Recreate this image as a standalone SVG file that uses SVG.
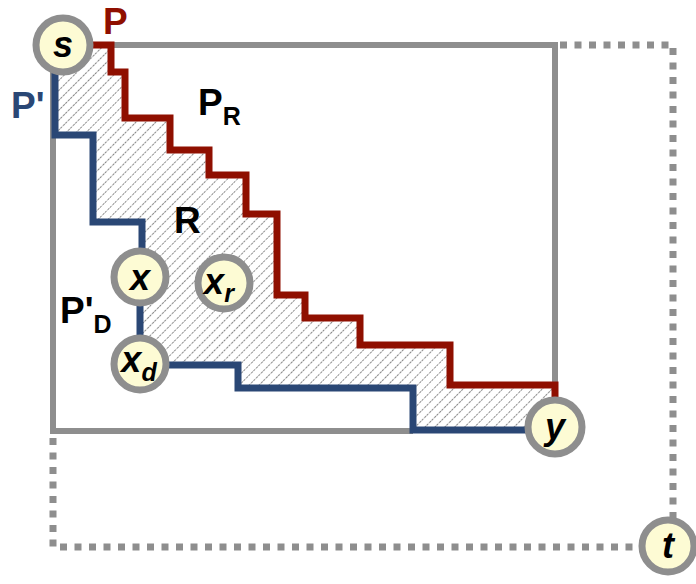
<svg xmlns="http://www.w3.org/2000/svg" width="696" height="584" viewBox="0 0 696 584">
  <defs>
    <pattern id="hatch" patternUnits="userSpaceOnUse" width="7" height="7" patternTransform="rotate(45)">
      <line x1="0" y1="0" x2="0" y2="7" stroke="#8a8a8a" stroke-width="2" stroke-dasharray="2.5 1.2"/>
    </pattern>
    <style>
      .frame { fill: none; stroke: #8e8e8e; stroke-width: 6; }
      .dots { fill: none; stroke: #8e8e8e; stroke-width: 7; stroke-dasharray: 7 7.5; }
      .red { fill: none; stroke: #8f0f00; stroke-width: 7; stroke-linejoin: miter; }
      .blue { fill: none; stroke: #2a4775; stroke-width: 7; stroke-linejoin: miter; }
      .node circle { fill: #fdfbd4; stroke: #8e8e8e; stroke-width: 7; }
      .node text { font-family: "Liberation Sans", Arial, sans-serif; font-weight: bold; font-style: italic; font-size: 36px; fill: #000; text-anchor: middle; }
      .lbl { font-family: "Liberation Sans", Arial, sans-serif; font-weight: bold; font-size: 37px; }
      .sub { font-size: 25px; }
    </style>
  </defs>

  <!-- shaded region R between the two paths -->
  <polygon fill="url(#hatch)" points="55,45 111,45 111,72 125,72 125,118 170,118 170,150 209,150 209,175 246,175 246,214 277,214 277,295 305,295 305,318 360,318 360,345 450,345 450,385 555,385 555,428 527,430 413,430 413,388 238,388 238,365 140,365 140,222 93,222 93,135 55,135"/>

  <g id="connectors">
    <!-- bounding box -->
    <polyline class="frame" points="95,45 555,45 555,386"/>
    <polyline class="frame" points="53,70 53,431 413,431"/>
    <!-- dotted extension to t -->
    <polyline class="dots" points="560,45 673,45 673,518"/>
    <polyline class="dots" points="53,438 53,547 640,547"/>
    <!-- path P -->
    <polyline class="red" points="92,45 111,45 111,72 125,72 125,118 170,118 170,150 209,150 209,175 246,175 246,214 277,214 277,295 305,295 305,318 360,318 360,345 450,345 450,385 555,385 555,405"/>
    <!-- path P' -->
    <polyline class="blue" points="55,70 55,135 93,135 93,222 142,222 142,255"/>
    <line class="blue" x1="140" y1="300" x2="140" y2="340"/>
    <polyline class="blue" points="165,365 238,365 238,388 413,388 413,430 530,430"/>
  </g>

  <g id="node-s" class="node"><circle cx="63" cy="45" r="27"/><text x="63" y="57">s</text></g>
  <g id="node-x" class="node"><circle cx="140" cy="277" r="26"/><text x="140" y="290">x</text></g>
  <g id="node-xr" class="node"><circle cx="224" cy="283" r="26"/><text x="219" y="294">x<tspan class="sub" dy="8">r</tspan></text></g>
  <g id="node-xd" class="node"><circle cx="140" cy="364" r="26"/><text x="139" y="372">x<tspan class="sub" dy="9">d</tspan></text></g>
  <g id="node-y" class="node"><circle cx="555" cy="427" r="27"/><text x="555" y="439">y</text></g>
  <g id="node-t" class="node"><circle cx="668" cy="546" r="26"/><text x="668" y="558">t</text></g>

  <!-- labels -->
  <text class="lbl" x="103" y="34" font-size="36" fill="#8f0f00">P</text>
  <text class="lbl" x="11" y="118" fill="#2a4775">P'</text>
  <text class="lbl" x="198" y="115" fill="#000">P<tspan class="sub" dy="10">R</tspan></text>
  <text class="lbl" x="174" y="233" fill="#000">R</text>
  <text class="lbl" x="60" y="323" fill="#000">P'<tspan class="sub" dy="10">D</tspan></text>
</svg>
